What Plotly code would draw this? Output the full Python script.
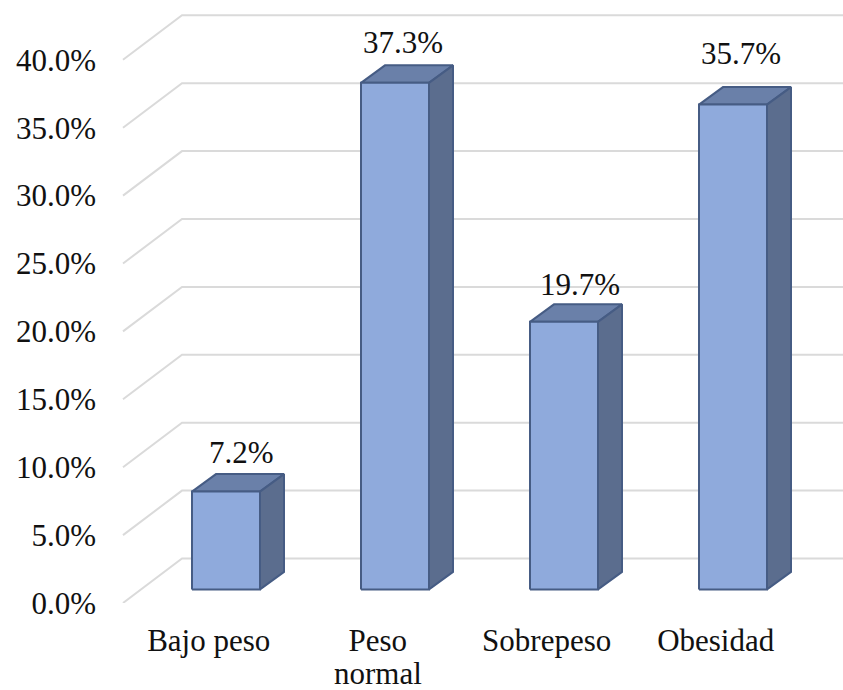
import plotly.graph_objects as go

# Body mass categories and their share of the sample, in percent
categories = ["Bajo peso", "Peso", "Sobrepeso", "Obesidad"]
second_lines = {1: "normal"}
values = [7.2, 37.3, 19.7, 35.7]
y_ticks = [0, 5, 10, 15, 20, 25, 30, 35, 40]

# Page geometry
WIDTH, HEIGHT = 843, 690
LEFT, BOTTOM = 97, 87
PX_PER_CATEGORY = 169.0
PX_PER_PERCENT = 13.58
ZERO_CATEGORY_PX = 208.7

FONT = "Liberation Serif"
FONT_SIZE = 31

# Pseudo-3D offsets, expressed in axis units
WALL_LEFT = (123 - ZERO_CATEGORY_PX) / PX_PER_CATEGORY
WALL_DX = 59 / PX_PER_CATEGORY
WALL_DY = 44.5 / PX_PER_PERCENT
BAR_SHIFT = 17.3 / PX_PER_CATEGORY
BAR_WIDTH = 68 / PX_PER_CATEGORY
BAR_BASE = 13.6 / PX_PER_PERCENT
BAR_DX = 24 / PX_PER_CATEGORY
BAR_DY = 17.5 / PX_PER_PERCENT

x_min = (LEFT - ZERO_CATEGORY_PX) / PX_PER_CATEGORY
x_max = (WIDTH - ZERO_CATEGORY_PX) / PX_PER_CATEGORY
y_max = (HEIGHT - BOTTOM) / PX_PER_PERCENT

# Value label nudges in pixels, relative to the top of each bar
label_dx = [15, 8, 16, 8]
label_dy = [39, 40, 37, 51]

GRID = "#DADADA"
FRONT = "#8FAADC"
TOP = "#6A80A9"
SIDE = "#5B6D8E"
EDGE = "#465C84"

fig = go.Figure()

# Back wall gridlines, each with its diagonal running along the side wall
for tick in y_ticks:
    fig.add_trace(go.Scatter(
        x=[WALL_LEFT, WALL_LEFT + WALL_DX, x_max],
        y=[tick, tick + WALL_DY, tick + WALL_DY],
        mode="lines",
        line=dict(color=GRID, width=2),
        hoverinfo="skip",
    ))


def face(xs, ys, color):
    fig.add_trace(go.Scatter(
        x=xs, y=ys,
        mode="lines",
        fill="toself",
        fillcolor=color,
        line=dict(color=EDGE, width=2),
        hoverinfo="skip",
    ))


# Each bar is three filled faces: top, side, front
for i, value in enumerate(values):
    x0 = i + BAR_SHIFT - BAR_WIDTH / 2
    x1 = i + BAR_SHIFT + BAR_WIDTH / 2
    y0 = BAR_BASE
    y1 = BAR_BASE + value
    face([x0, x0 + BAR_DX, x1 + BAR_DX, x1, x0],
         [y1, y1 + BAR_DY, y1 + BAR_DY, y1, y1], TOP)
    face([x1, x1 + BAR_DX, x1 + BAR_DX, x1, x1],
         [y0, y0 + BAR_DY, y1 + BAR_DY, y1, y0], SIDE)
    face([x0, x1, x1, x0, x0], [y0, y0, y1, y1, y0], FRONT)

annotations = [
    dict(
        x=i + BAR_SHIFT, y=BAR_BASE + value,
        text=f"{value:.1f}%",
        showarrow=False,
        xanchor="center", yanchor="middle",
        xshift=label_dx[i], yshift=label_dy[i],
        font=dict(family=FONT, size=FONT_SIZE, color="#111111"),
    )
    for i, value in enumerate(values)
]

# Wrapped category label: the lower line sits closer than the default line height
for i, text in second_lines.items():
    annotations.append(dict(
        x=i, y=0,
        text=text,
        showarrow=False,
        xanchor="center", yanchor="middle",
        yshift=-70,
        font=dict(family=FONT, size=FONT_SIZE, color="#111111"),
    ))

fig.update_layout(
    width=WIDTH,
    height=HEIGHT,
    autosize=False,
    margin=dict(l=LEFT, r=0, t=0, b=BOTTOM, pad=0),
    paper_bgcolor="white",
    plot_bgcolor="white",
    showlegend=False,
    annotations=annotations,
    xaxis=dict(
        range=[x_min, x_max],
        tickmode="array",
        tickvals=list(range(len(categories))),
        ticktext=categories,
        ticks="",
        showgrid=False,
        zeroline=False,
        showline=False,
        ticklabelstandoff=16,
        tickfont=dict(family=FONT, size=FONT_SIZE, color="#111111"),
    ),
    yaxis=dict(
        range=[0, y_max],
        tickmode="array",
        tickvals=y_ticks,
        ticktext=[f"{t:.1f}%" for t in y_ticks],
        ticks="",
        showgrid=False,
        zeroline=False,
        showline=False,
        tickfont=dict(family=FONT, size=FONT_SIZE, color="#111111"),
    ),
)

fig.write_html("out.html")
